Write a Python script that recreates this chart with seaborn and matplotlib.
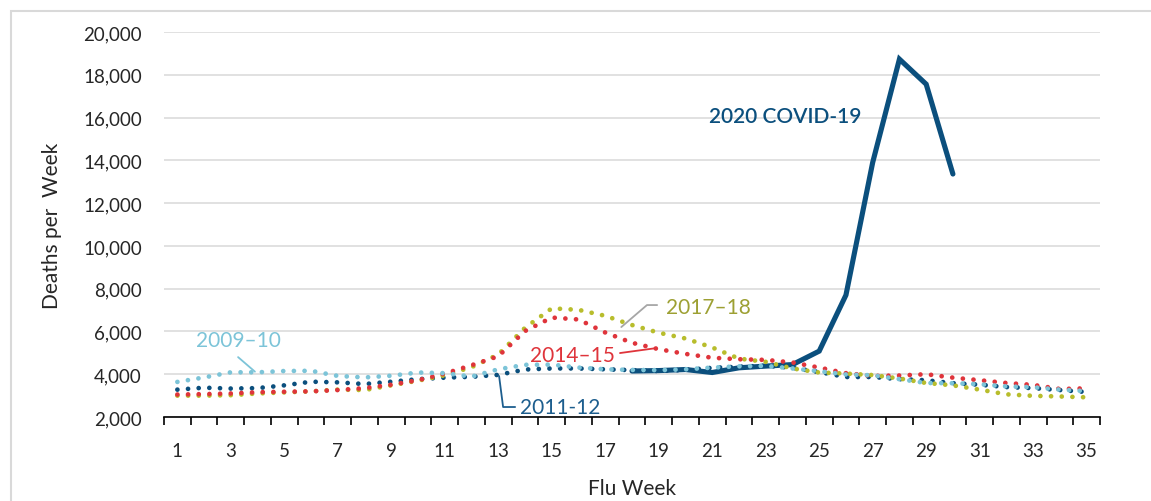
import matplotlib
matplotlib.use("Agg")
import matplotlib.pyplot as plt
import seaborn as sns
import numpy as np
from matplotlib.patches import Rectangle
from matplotlib.ticker import FixedLocator, FuncFormatter, NullFormatter

# weekly deaths, flu weeks 1-35
weeks = list(range(1, 36))
s2009_10 = [3640, 3850, 4090, 4090, 4150, 4160, 3920, 3850, 3930, 4080,
            4050, 3890, 4230, 4440, 4450, 4310, 4230, 4200, 4190, 4230,
            4310, 4370, 4390, 4270, 4140, 3990, 3950, 3770, 3590, 3580,
            3530, 3430, 3390, 3280, 3210]
s2011_12 = [3280, 3370, 3330, 3350, 3480, 3650, 3620, 3540, 3650, 3770,
            3840, 3880, 3970, 4220, 4270, 4270, 4230, 4190, 4150, 4200,
            4300, 4350, 4400, 4300, 4100, 3870, 3870, 3770, 3720, 3580,
            3510, 3400, 3350, 3260, 3170]
s2014_15 = [3050, 3070, 3100, 3160, 3180, 3200, 3260, 3350, 3510, 3720,
            4030, 4420, 4840, 6020, 6650, 6560, 5950, 5470, 5170, 4950,
            4770, 4700, 4670, 4550, 4310, 4050, 3920, 3940, 4000, 3840,
            3720, 3590, 3500, 3310, 3340]
s2017_18 = [3000, 3000, 3020, 3100, 3150, 3200, 3280, 3260, 3480, 3700,
            3950, 4330, 4920, 6170, 7080, 7010, 6730, 6300, 5940, 5670,
            5250, 4730, 4580, 4270, 4080, 4030, 3960, 3800, 3590, 3480,
            3280, 3060, 2990, 2960, 2920]
covid_weeks = list(range(18, 31))
covid_2020 = [4150, 4170, 4220, 4080, 4300, 4380, 4450, 5080, 7700,
              13900, 18730, 17560, 13360]

C_LIGHT = "#7cc4d8"
C_DARK = "#0b4f7d"
C_RED = "#df343b"
C_OLIVE = "#b8bd2c"

sns.set_style("white")
plt.rcParams["font.family"] = ["Lato", "DejaVu Sans"]

fig = plt.figure(figsize=(11.51, 5.02), dpi=100)
ax = fig.add_axes([164 / 1151, 1 - 418 / 502, (1100 - 164) / 1151, (418 - 33) / 502])

# covid drawn first, the dotted seasons sit on top of it
sns.lineplot(x=covid_weeks, y=covid_2020, ax=ax, color=C_DARK, lw=3.7,
             solid_joinstyle="miter", zorder=2)

dotted = dict(lw=3.4, linestyle=(0, (0.01, 2.25)))
for vals, col in [(s2011_12, C_DARK), (s2017_18, C_OLIVE),
                  (s2014_15, C_RED), (s2009_10, C_LIGHT)]:
    sns.lineplot(x=weeks, y=vals, ax=ax, color=col, zorder=3, **dotted)
    ax.lines[-1].set_dash_capstyle("round")

ax.set_xlim(0.5, 35.5)
ax.set_ylim(2000, 20000)
ax.set_yticks(np.arange(2000, 20001, 2000))
ax.yaxis.set_major_formatter(FuncFormatter(lambda v, p: f"{v:,.0f}"))
ax.grid(axis="y", color="#d9d9d9", lw=1.1)
ax.grid(axis="x", visible=False)
for s in ["left", "top", "right"]:
    ax.spines[s].set_visible(False)
ax.spines["bottom"].set_color("black")
ax.spines["bottom"].set_linewidth(1.2)
ax.spines["bottom"].set_zorder(4)

ax.xaxis.set_major_locator(FixedLocator(np.arange(0.5, 36, 1)))
ax.xaxis.set_major_formatter(NullFormatter())
ax.xaxis.set_minor_locator(FixedLocator(weeks[::2]))
ax.xaxis.set_minor_formatter(FuncFormatter(lambda v, p: f"{int(v)}"))
ax.tick_params(axis="x", which="major", direction="out", length=5.5,
               width=1.2, color="black", bottom=True)
ax.tick_params(axis="x", which="minor", length=0, pad=18, labelsize=13.5,
               labelcolor="#262626", bottom=True)
ax.tick_params(axis="y", length=0, pad=16, labelsize=13.5, labelcolor="#262626")

ax.set_xlabel("Flu Week", fontsize=15, color="#262626", labelpad=14)
ax.set_ylabel("Deaths per  Week", fontsize=15, color="#262626", labelpad=15)

# series labels with leader lines
ax.text(3.27, 5600, "2009\u201310", color=C_LIGHT, fontsize=15, ha="center", va="center")
ax.plot([3.27, 3.9], [4800, 4120], color=C_LIGHT, lw=1.3, zorder=3)

ax.text(15.76, 4900, "2014\u201315", color=C_RED, fontsize=15, ha="center", va="center")
ax.plot([17.55, 18.9], [4990, 5220], color=C_RED, lw=1.3, zorder=3)

ax.text(20.84, 7140, "2017\u201318", color="#9da033", fontsize=15, ha="center", va="center")
ax.plot([17.6, 18.56, 18.94], [6205, 7234, 7234], color="#a6a6a6", lw=1.3, zorder=3)

ax.text(15.3, 2470, "2011-12", color="#1d5e8e", fontsize=15, ha="center", va="center")
ax.plot([13.03, 13.18, 13.63], [3916, 2467, 2467], color="#1d5e8e", lw=1.3, zorder=3)

ax.text(23.72, 16066, "2020 COVID-19", color=C_DARK, fontsize=15,
        fontweight="semibold", ha="center", va="center")

# light frame around the chart area
fig.add_artist(Rectangle((11 / 1151, -0.1), 1.2, 1 - 12 / 502 + 0.1,
                         transform=fig.transFigure, fill=False,
                         edgecolor="#d9d9d9", lw=1.5))

fig.savefig("out.png", dpi=100)
